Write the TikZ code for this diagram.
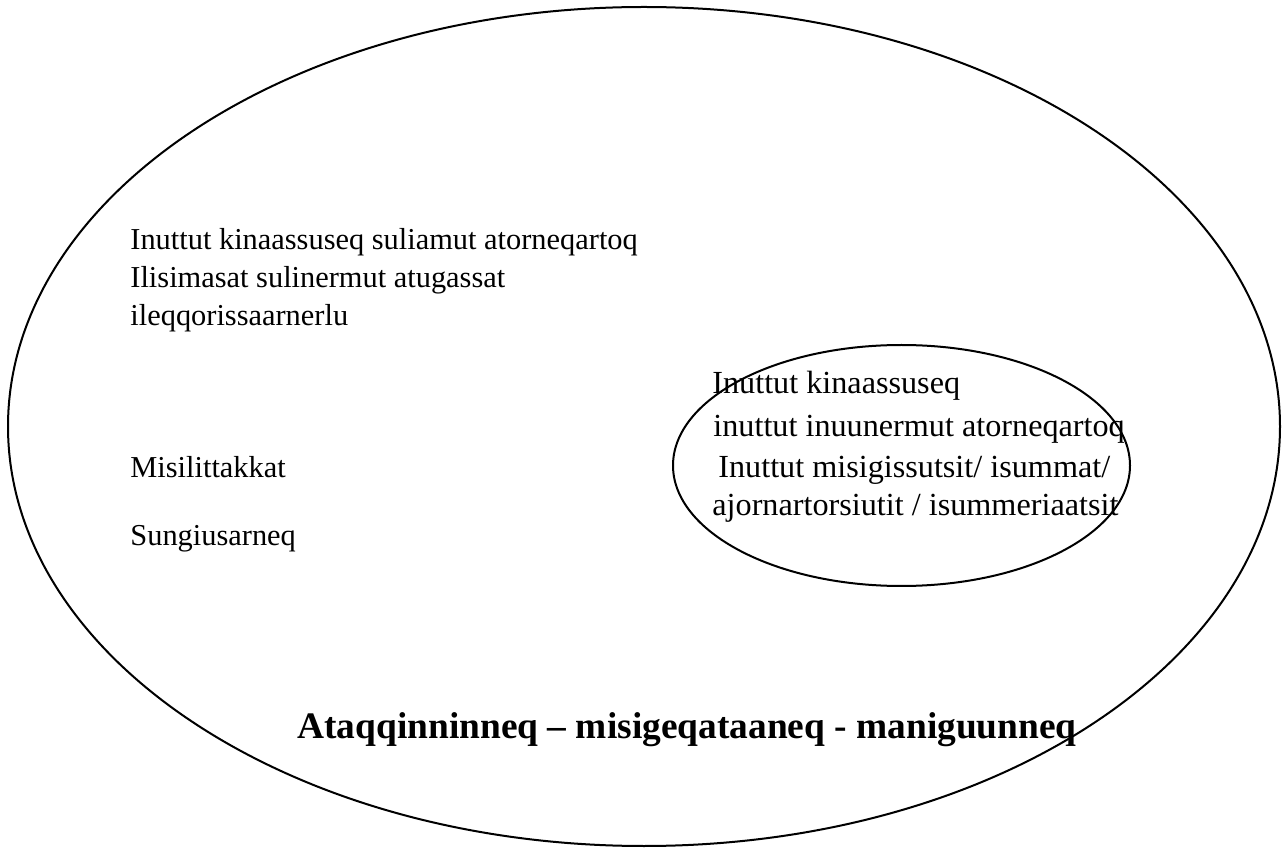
\documentclass[tikz,border=0pt]{standalone}
\usepackage{fontspec}
\setmainfont{Liberation Serif}
\usepackage{tikz}

\tikzset{
    txt/.style={anchor=base west, inner sep=0pt, font=\fontsize{15.2}{18.5}\selectfont},
    inner txt/.style={anchor=base west, inner sep=0pt, font=\fontsize{16.1}{20}\selectfont},
    title/.style={anchor=base west, inner sep=0pt, font=\fontsize{18.7}{22}\selectfont\bfseries},
    ring/.style={line width=1pt}
}

\begin{document}
\begin{tikzpicture}[x=0.5pt, y=-0.5pt]
    \useasboundingbox (0,0) rectangle (1286,855);

    % Draw circles
    \draw[ring] (644,426.5) ellipse [x radius=636, y radius=419.5];
    \draw[ring] (901.5,465.5) ellipse [x radius=228.5, y radius=120.5];

    % Define nodes
    \node[txt] (work1) at (130,250) {Inuttut kinaassuseq suliamut atorneqartoq};
    \node[txt] (work2) at (130,288) {Ilisimasat sulinermut atugassat};
    \node[txt] (work3) at (130,326) {ileqqorissaarnerlu};

    \node[txt] (exp) at (130,478) {Misilittakkat};
    \node[txt] (train) at (130,546) {Sungiusarneq};

    \node[inner txt] (self1) at (712,394) {Inuttut kinaassuseq};
    \node[inner txt] (self2) at (713,437) {inuttut inuunermut atorneqartoq};
    \node[inner txt] (self3) at (718,478) {Inuttut misigissutsit/ isummat/};
    \node[inner txt] (self4) at (712,516) {ajornartorsiutit / isummeriaatsit};

    \node[title] (values) at (297,738) {Ataqqinninneq -- misigeqataaneq - maniguunneq};
\end{tikzpicture}
\end{document}
